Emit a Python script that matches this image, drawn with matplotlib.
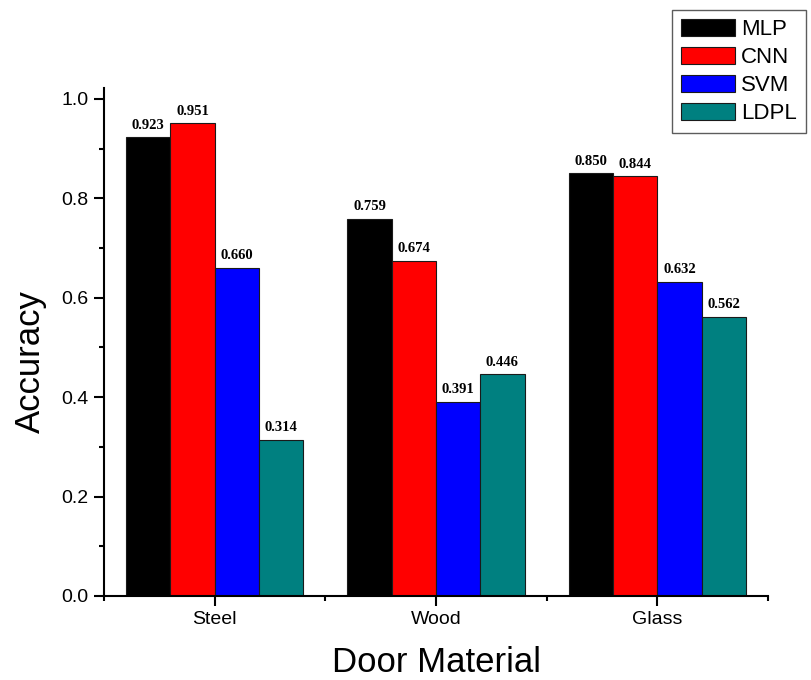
import matplotlib
matplotlib.use("Agg")
import matplotlib.pyplot as plt
import numpy as np
from matplotlib.ticker import MultipleLocator

categories = ["Steel", "Wood", "Glass"]
series_names = ["MLP", "CNN", "SVM", "LDPL"]
mlp = [0.923, 0.759, 0.850]
cnn = [0.951, 0.674, 0.844]
svm = [0.660, 0.391, 0.632]
ldpl = [0.314, 0.446, 0.562]
series_values = [mlp, cnn, svm, ldpl]
colors = ["#000000", "#FF0000", "#0000FF", "#008080"]

plt.rcParams['font.family'] = ['Liberation Sans', 'DejaVu Sans']

fig = plt.figure(figsize=(8.11, 6.8), dpi=100)
ax = fig.add_axes([104/811, 1-596/680, (768-104)/811, (596-88)/680])

x = np.arange(len(categories))
width = 0.2
offsets = [-0.3, -0.1, 0.1, 0.3]
for name, vals, col, off in zip(series_names, series_values, colors, offsets):
    bars = ax.bar(x + off, vals, width, color=col, edgecolor='#1a1a1a', linewidth=0.8, label=name)
    for b, v in zip(bars, vals):
        ax.annotate(f"{v:.3f}", (b.get_x() + b.get_width()/2, v), xytext=(0, 4),
                    textcoords='offset points', ha='center', va='bottom',
                    fontsize=10.5, fontweight='bold', family='Liberation Serif')

ax.set_xlim(-0.5, 2.5)
ax.set_ylim(0, 1.022)
ax.set_xticks(x)
ax.set_xticklabels(categories)
ax.xaxis.set_minor_locator(MultipleLocator(0.5))
ax.yaxis.set_major_locator(MultipleLocator(0.2))
ax.yaxis.set_minor_locator(MultipleLocator(0.1))
ax.yaxis.set_major_formatter(matplotlib.ticker.FormatStrFormatter('%.1f'))

for s in ['top', 'right']:
    ax.spines[s].set_visible(False)
for s in ['left', 'bottom']:
    ax.spines[s].set_linewidth(1.5)

ax.tick_params(axis='both', which='major', direction='out', length=7, width=1.5, labelsize=14, pad=4)
ax.tick_params(axis='both', which='minor', direction='out', length=3.5, width=1.5)

ax.set_xlabel("Door Material", fontsize=25)
ax.set_ylabel("Accuracy", fontsize=25)
ax.xaxis.label.set_va('center')
ax.yaxis.label.set_va('center')
ax.xaxis.set_label_coords(0.5, -(663-596)/508)
ax.yaxis.set_label_coords((30-104)/664, (596-362)/508)

leg = fig.legend(loc='upper right', bbox_to_anchor=(806/811, 1-10/680), fontsize=16,
                 frameon=True, fancybox=False, shadow=False, handlelength=2.4, handleheight=0.8,
                 handletextpad=0.3, labelspacing=0.3, borderpad=0.4, borderaxespad=0)
leg.get_frame().set_edgecolor('#333333')
leg.get_frame().set_linewidth(1.0)

fig.savefig("out.png", dpi=100)
